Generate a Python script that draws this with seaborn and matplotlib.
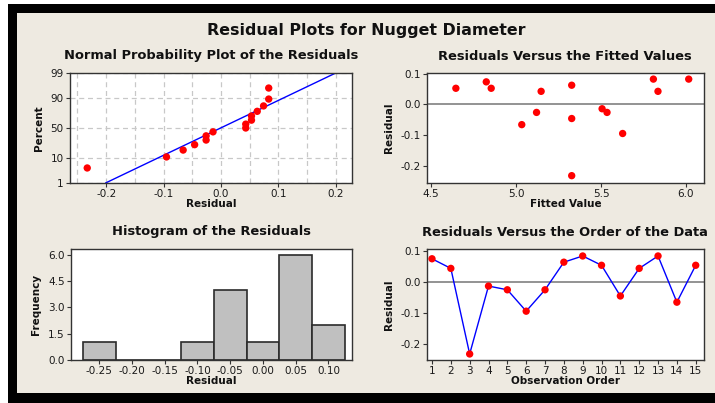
import numpy as np
import pandas as pd
import matplotlib
matplotlib.use("Agg")
import matplotlib.pyplot as plt
import seaborn as sns
from matplotlib.patches import Rectangle
from matplotlib.ticker import FixedLocator
from statistics import NormalDist

# Residuals in observation order and their fitted values
observation = list(range(1, 16))
residuals = [0.074, 0.043, -0.233, -0.014, -0.026, -0.095, -0.026, 0.063,
             0.083, 0.053, -0.046, 0.043, 0.083, -0.066, 0.053]
fitted = [4.824, 5.147, 5.327, 5.506, 5.12, 5.627, 5.535, 5.327,
          5.808, 4.645, 5.327, 5.835, 6.016, 5.033, 4.853]

prob_ticks = [1, 10, 50, 90, 99]
npp_xticks = [-0.2, -0.1, 0.0, 0.1, 0.2]
npp_xminor = [-0.25, -0.15, -0.05, 0.05, 0.15]
fit_xticks = [4.5, 5.0, 5.5, 6.0]
res_yticks = [-0.2, -0.1, 0.0, 0.1]
hist_centers = [-0.25, -0.20, -0.15, -0.10, -0.05, 0.00, 0.05, 0.10]
freq_ticks = [0.0, 1.5, 3.0, 4.5, 6.0]

df = pd.DataFrame({"obs": observation, "resid": residuals, "fit": fitted})

sns.set_theme(style="white")
plt.rcParams['font.family'] = ['DejaVu Sans']

W, H = 715, 403
BG = "#eeeae1"
RED = "#ff0000"
fig = plt.figure(figsize=(W / 100, H / 100), dpi=100, facecolor="white")

# black frame and beige panel
fig.add_artist(Rectangle((8 / W, 0), 1, 1 - 4 / H, transform=fig.transFigure,
                         facecolor="black", edgecolor="none", zorder=-20))
fig.add_artist(Rectangle((17 / W, 10 / H), 1, 1 - 23 / H, transform=fig.transFigure,
                         facecolor=BG, edgecolor="none", zorder=-10))


def box(l, t, r, b):
    return [l / W, 1 - b / H, (r - l) / W, (b - t) / H]


def style(ax):
    ax.set_facecolor("white")
    for s in ax.spines.values():
        s.set_color("#333333")
        s.set_linewidth(1.0)
    ax.tick_params(axis="both", which="both", direction="out", length=3, width=0.8,
                   color="#333333", labelsize=7.5, pad=1.5, labelcolor="#1a1a1a",
                   bottom=True, left=True)


lab = dict(fontsize=7.5, fontweight="bold", color="#111111")
MS = 28

# --- Normal probability plot ---
ax1 = fig.add_axes(box(70, 73, 352, 183))
style(ax1)
nd = NormalDist()
srt = np.sort(np.array(residuals))
n = len(srt)
pct = (np.arange(1, n + 1) - 0.3) / (n + 0.4)
z = np.array([nd.inv_cdf(p) for p in pct])
mu, sd = srt.mean(), srt.std(ddof=1)
zl = np.array([nd.inv_cdf(0.01), nd.inv_cdf(0.99)])
ax1.plot(mu + sd * zl, zl, color="#0000ff", lw=1.0, zorder=2)
sns.scatterplot(x=srt, y=z, ax=ax1, color=RED, s=MS, edgecolor="none", zorder=3)
ax1.set_xlim(-0.263, 0.228)
ax1.set_ylim(zl[0], zl[1])
ax1.set_yticks([nd.inv_cdf(p / 100) for p in prob_ticks])
ax1.set_yticklabels([str(p) for p in prob_ticks])
ax1.set_xticks(npp_xticks)
ax1.set_xticklabels([f"{v:.1f}" for v in npp_xticks])
ax1.xaxis.set_minor_locator(FixedLocator(npp_xminor))
ax1.tick_params(axis="x", which="minor", length=0)
ax1.grid(True, which="both", axis="x", color="#c8c8c8", ls=(0, (4, 3)), lw=0.9)
ax1.grid(True, which="major", axis="y", color="#c8c8c8", ls=(0, (4, 3)), lw=0.9)
ax1.set_axisbelow(True)
ax1.set_xlabel("Residual", labelpad=0, **lab)
ax1.set_ylabel("Percent", labelpad=5, **lab)

# --- Residuals vs fitted ---
ax2 = fig.add_axes(box(427, 73, 704, 183))
style(ax2)
ax2.axhline(0, color="#808080", lw=1.2, zorder=1)
sns.scatterplot(data=df, x="fit", y="resid", ax=ax2, color=RED, s=MS,
                edgecolor="none", zorder=3)
ax2.set_xlim(4.475, 6.106)
ax2.set_ylim(-0.257, 0.103)
ax2.set_xticks(fit_xticks)
ax2.set_xticklabels([f"{v:.1f}" for v in fit_xticks])
ax2.set_yticks(res_yticks)
ax2.set_yticklabels([f"{v:.1f}" for v in res_yticks])
ax2.set_xlabel("Fitted Value", labelpad=0, **lab)
ax2.set_ylabel("Residual", labelpad=5, **lab)

# --- Histogram ---
ax3 = fig.add_axes(box(71, 249, 352, 360))
style(ax3)
step = hist_centers[1] - hist_centers[0]
edges = np.append(np.array(hist_centers) - step / 2, hist_centers[-1] + step / 2)
sns.histplot(x=residuals, bins=edges, ax=ax3, color="#c0c0c0", alpha=1,
             edgecolor="#2b2b2b", linewidth=1.2)
ax3.set_xlim(-0.293, 0.136)
ax3.set_ylim(0, 6.32)
ax3.set_xticks(hist_centers)
ax3.set_xticklabels([f"{v:.2f}" for v in hist_centers])
ax3.set_yticks(freq_ticks)
ax3.set_yticklabels([f"{v:.1f}" for v in freq_ticks])
ax3.set_xlabel("Residual", labelpad=0, **lab)
ax3.set_ylabel("Frequency", labelpad=5, **lab)

# --- Residuals vs order ---
ax4 = fig.add_axes(box(427, 249, 704, 360))
style(ax4)
ax4.axhline(0, color="#808080", lw=1.2, zorder=1)
sns.lineplot(data=df, x="obs", y="resid", ax=ax4, color="#0000ff", lw=1.0, zorder=2)
sns.scatterplot(data=df, x="obs", y="resid", ax=ax4, color=RED, s=MS,
                edgecolor="none", zorder=3)
ax4.set_xlim(0.735, 15.44)
ax4.set_ylim(-0.2524, 0.1055)
ax4.set_xticks(observation)
ax4.set_yticks(res_yticks)
ax4.set_yticklabels([f"{v:.1f}" for v in res_yticks])
ax4.set_xlabel("Observation Order", labelpad=0, **lab)
ax4.set_ylabel("Residual", labelpad=5, **lab)

# titles
fig.text(366 / W, 1 - 31 / H, "Residual Plots for Nugget Diameter", ha="center",
         va="center", fontsize=11.4, fontweight="bold", color="#111111")
sub = dict(ha="center", va="center", fontsize=9.4, fontweight="bold", color="#111111")
fig.text(211 / W, 1 - 56 / H, "Normal Probability Plot of the Residuals", **sub)
fig.text(565 / W, 1 - 56 / H, "Residuals Versus the Fitted Values", **sub)
fig.text(211 / W, 1 - 232 / H, "Histogram of the Residuals", **sub)
fig.text(565 / W, 1 - 232 / H, "Residuals Versus the Order of the Data", **sub)

fig.savefig("out.png", dpi=100, facecolor=fig.get_facecolor())
